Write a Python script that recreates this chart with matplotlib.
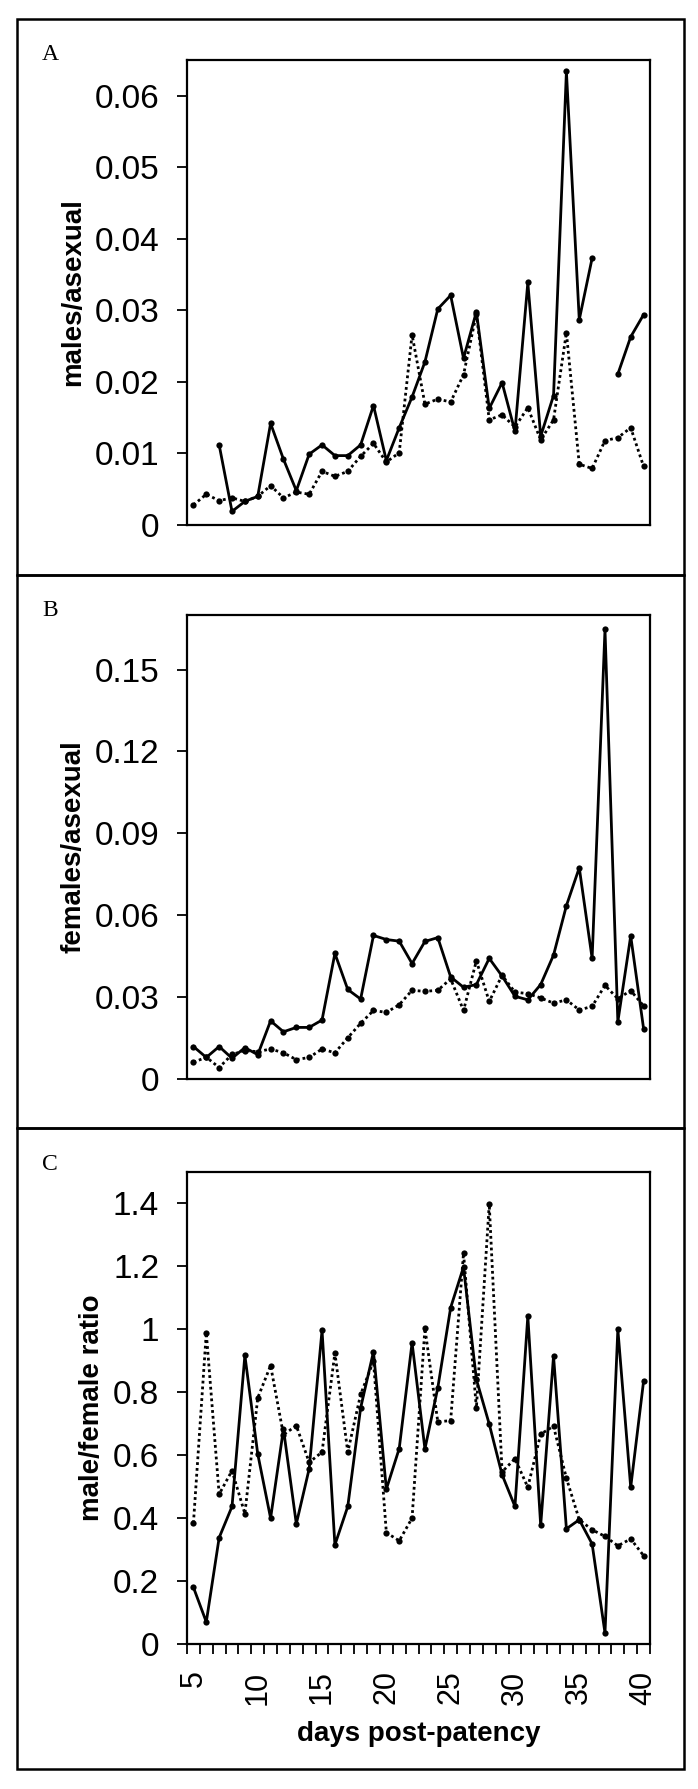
import numpy as np
import matplotlib
matplotlib.use("Agg")
import matplotlib.pyplot as plt
from matplotlib.patches import Rectangle
from matplotlib.ticker import FuncFormatter

plt.rcParams['font.family'] = ['Liberation Sans', 'DejaVu Sans']

days = list(range(5, 41))
nan = np.nan

# A: males/asexual
male_solid = [nan, nan, 0.0112, 0.0019, 0.0033, 0.0040, 0.0142, 0.0092, 0.0048, 0.0099,
              0.0112, 0.0097, 0.0097, 0.0112, 0.0167, 0.0090, 0.0136, 0.0179, 0.0228, 0.0302,
              0.0321, 0.0233, 0.0298, 0.0163, 0.0199, 0.0131, 0.0339, 0.0124, 0.0181, 0.0634,
              0.0287, 0.0373, nan, 0.0211, 0.0263, 0.0294]
male_dotted = [0.0028, 0.0043, 0.0034, 0.0038, 0.0033, 0.0040, 0.0055, 0.0038, 0.0046, 0.0043,
               0.0075, 0.0068, 0.0075, 0.0096, 0.0114, 0.0088, 0.0101, 0.0266, 0.0169, 0.0176,
               0.0172, 0.0210, 0.0295, 0.0147, 0.0154, 0.0137, 0.0164, 0.0119, 0.0147, 0.0269,
               0.0085, 0.0079, 0.0118, 0.0122, 0.0136, 0.0082]

# B: females/asexual
female_solid = [0.0119, 0.0079, 0.0119, 0.0076, 0.0115, 0.0089, 0.0213, 0.0173, 0.0189, 0.0189,
                0.0216, 0.0460, 0.0328, 0.0293, 0.0526, 0.0511, 0.0505, 0.0423, 0.0504, 0.0518,
                0.0374, 0.0336, 0.0346, 0.0442, 0.0377, 0.0303, 0.0290, 0.0346, 0.0454, 0.0635,
                0.0774, 0.0442, 0.1647, 0.0210, 0.0524, 0.0185]
female_dotted = [0.0061, 0.0080, 0.0042, 0.0090, 0.0104, 0.0100, 0.0110, 0.0096, 0.0071, 0.0079,
                 0.0110, 0.0096, 0.0151, 0.0204, 0.0251, 0.0244, 0.0272, 0.0325, 0.0321, 0.0325,
                 0.0367, 0.0251, 0.0433, 0.0284, 0.0380, 0.0318, 0.0313, 0.0297, 0.0278, 0.0290,
                 0.0253, 0.0266, 0.0343, 0.0294, 0.0324, 0.0268]

# C: male/female ratio
ratio_solid = [0.180, 0.070, 0.338, 0.437, 0.917, 0.604, 0.400, 0.683, 0.382, 0.557,
               0.997, 0.315, 0.437, 0.750, 0.929, 0.492, 0.621, 0.957, 0.620, 0.814,
               1.069, 1.198, 0.841, 0.699, 0.538, 0.437, 1.042, 0.377, 0.915, 0.366,
               0.395, 0.318, 0.035, 1.000, 0.498, 0.835]
ratio_dotted = [0.384, 0.989, 0.476, 0.551, 0.414, 0.782, 0.885, 0.665, 0.694, 0.577,
                0.610, 0.925, 0.610, 0.793, 0.899, 0.354, 0.328, 0.400, 1.003, 0.706,
                0.710, 1.242, 0.750, 1.398, 0.547, 0.589, 0.498, 0.667, 0.692, 0.527,
                0.395, 0.363, 0.342, 0.312, 0.334, 0.281]

panels = [
    ("A", "males/asexual", male_solid, male_dotted, 0.065, [0, 0.01, 0.02, 0.03, 0.04, 0.05, 0.06]),
    ("B", "females/asexual", female_solid, female_dotted, 0.17, [0, 0.03, 0.06, 0.09, 0.12, 0.15]),
    ("C", "male/female ratio", ratio_solid, ratio_dotted, 1.5, [0, 0.2, 0.4, 0.6, 0.8, 1, 1.2, 1.4]),
]

W, H = 698, 1789
fig = plt.figure(figsize=(W / 100, H / 100), dpi=100)

# pixel layout (top, bottom of plot area; top of panel box)
plot_left, plot_right = 187, 650
plot_tb = [(60, 525), (615, 1079), (1172, 1644)]
box_tops = [19, 575, 1128]
box_bottom = 1769
box_left, box_right = 17, 684

fmt = FuncFormatter(lambda v, p: "%g" % v)

for i, (tag, ylab, solid, dotted, ytop, yticks) in enumerate(panels):
    top, bot = plot_tb[i]
    ax = fig.add_axes([plot_left / W, 1 - bot / H, (plot_right - plot_left) / W, (bot - top) / H])
    ax.plot(days, dotted, color="black", lw=2.0, linestyle=(0, (1, 1.1)),
            marker="o", ms=4.5, markeredgewidth=0)
    ax.plot(days, solid, color="black", lw=2.0, linestyle="-",
            marker="o", ms=4.5, markeredgewidth=0)
    ax.set_xlim(4.5, 40.5)
    ax.set_ylim(0, ytop)
    ax.set_yticks(yticks)
    ax.yaxis.set_major_formatter(fmt)
    ax.tick_params(axis="y", direction="out", length=7, width=1.3, pad=13, labelsize=24)
    for s in ax.spines.values():
        s.set_linewidth(1.6)
    if tag == "C":
        ax.set_xticks(range(5, 41, 5))
        ax.set_xticks(np.arange(4.5, 41, 1), minor=True)
        ax.tick_params(axis="x", which="major", length=0, pad=19, labelsize=22, labelrotation=90)
        ax.tick_params(axis="x", which="minor", direction="out", length=7, width=1.3)
        ax.set_xlabel("days post-patency", fontsize=20, fontweight="bold", labelpad=12)
    else:
        ax.set_xticks([])
    ax.set_ylabel(ylab, fontsize=20, fontweight="bold", labelpad=6)

    # panel box and letter
    btop = box_tops[i]
    bbot = box_tops[i + 1] if i < 2 else box_bottom
    fig.patches.append(Rectangle((box_left / W, 1 - bbot / H), (box_right - box_left) / W,
                                 (bbot - btop) / H, transform=fig.transFigure,
                                 fill=False, lw=1.8, edgecolor="black"))
    fig.text(50 / W, 1 - (btop + 36) / H, tag, family="Liberation Serif", fontsize=17,
             ha="center", va="center")

fig.savefig("out.png", dpi=100)
